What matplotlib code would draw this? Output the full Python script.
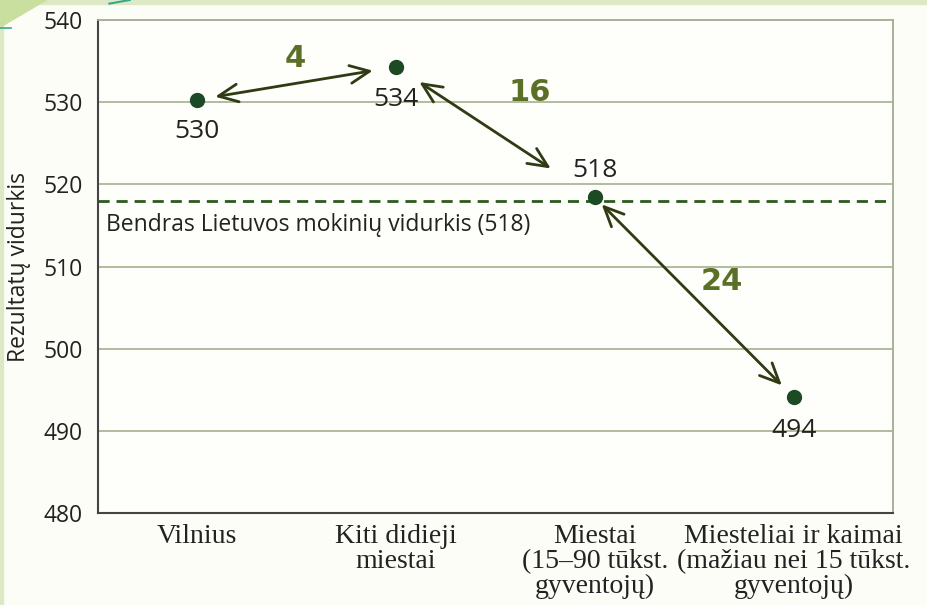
import matplotlib
matplotlib.use('Agg')
import matplotlib.pyplot as plt
from matplotlib.patches import Rectangle, Polygon
from matplotlib.lines import Line2D

# duomenys
categories = ['Vilnius', 'Kiti didieji\nmiestai', 'Miestai\n(15–90 tūkst.\ngyventojų)',
              'Miesteliai ir kaimai\n(mažiau nei 15 tūkst.\ngyventojų)']
values = [530.3, 534.3, 518.4, 494.1]
value_labels = ['530', '534', '518', '494']
average = 518
diff_labels = ['4', '16', '24']

dot_col = '#1b4a24'
arrow_col = '#2f3b12'
diff_col = '#5b7027'

fig = plt.figure(figsize=(9.27, 6.05), dpi=100)
fig.patch.set_facecolor('#fdfdf8')

# dekoratyvus kraštas
fig.add_artist(Rectangle((0, 0.994), 1, 0.006, transform=fig.transFigure, color='#dde9c4', zorder=0))
fig.add_artist(Rectangle((0, 0), 0.003, 1, transform=fig.transFigure, color='#dde9c4', zorder=0))
fig.add_artist(Polygon([(0, 1), (0.05, 1), (0, 0.955)], closed=True, transform=fig.transFigure,
                       color='#c9df9f', zorder=0))
fig.add_artist(Line2D([0, 0.012], [0.953, 0.953], transform=fig.transFigure,
                      color='#3aa88a', lw=1.2, zorder=0))
fig.add_artist(Line2D([0.118, 0.14], [0.994, 1.0], transform=fig.transFigure,
                      color='#3aa88a', lw=1.5, zorder=0))

ax = fig.add_axes([0.1057, 0.152, 0.8576, 0.815])
ax.set_facecolor('#fefefb')
x = list(range(len(categories)))

ax.set_xlim(-0.5, 3.5)
ax.set_ylim(480, 540)
ax.set_yticks(range(480, 541, 10))
ax.set_xticks(x)
ax.set_xticklabels(categories, family='Liberation Serif', fontsize=20, color='#222222',
                   linespacing=0.98)
ax.tick_params(axis='x', length=0, pad=8)
ax.tick_params(axis='y', length=0, labelsize=16.5, labelcolor='#222222', pad=11)
for lab in ax.get_yticklabels():
    lab.set_family('Open Sans')
ax.set_ylabel('Rezultatų vidurkis', family='Open Sans', fontsize=16.5, color='#222222')
ax.yaxis.set_label_coords(-0.084, 0.5)

for yv in range(490, 540, 10):
    ax.axhline(yv, color='#aab896', lw=1.3, zorder=1)

ax.spines['left'].set_color('#444444')
ax.spines['bottom'].set_color('#444444')
ax.spines['left'].set_linewidth(1.5)
ax.spines['bottom'].set_linewidth(1.5)
ax.spines['top'].set_color('#a3ab93')
ax.spines['right'].set_color('#a3ab93')
ax.spines['top'].set_linewidth(1.3)
ax.spines['right'].set_linewidth(1.3)

ax.axhline(average, color='#2c5a1f', lw=2, dashes=(4, 2.5), zorder=2)
ax.text(-0.46, average - 1.5, 'Bendras Lietuvos mokinių vidurkis (518)', family='Open Sans',
        fontsize=16.5, color='#222222', va='top', ha='left')

ax.plot(x, values, 'o', color=dot_col, markersize=10, zorder=5)

# vertės prie taškų
offsets = [(0, -3.9), (0, -4.0), (0, 3.3), (0, -4.1)]
for xi, v, lab, (dx, dy) in zip(x, values, value_labels, offsets):
    ax.text(xi + dx, v + dy, lab, family='Open Sans', fontsize=19, color='#222222',
            ha='center', va='center')

# rodyklės tarp taškų
shrinks = [(13, 17), (20, 38), (7, 12)]
for i, (sa, sb) in enumerate(shrinks):
    ax.annotate('', xy=(x[i + 1], values[i + 1]), xytext=(x[i], values[i]),
                arrowprops=dict(arrowstyle='<->,head_length=0.7,head_width=0.32',
                                mutation_scale=20, color=arrow_col, lw=2,
                                shrinkA=sa, shrinkB=sb), zorder=4)

diff_pos = [(0.495, 535.3), (1.67, 531.2), (2.64, 508.2)]
for (px, py), lab in zip(diff_pos, diff_labels):
    ax.text(px, py, lab, family='DejaVu Sans', fontweight='bold', fontsize=22,
            color=diff_col, ha='center', va='center')

fig.savefig('out.png', dpi=100, facecolor=fig.get_facecolor())
plt.close('all')
